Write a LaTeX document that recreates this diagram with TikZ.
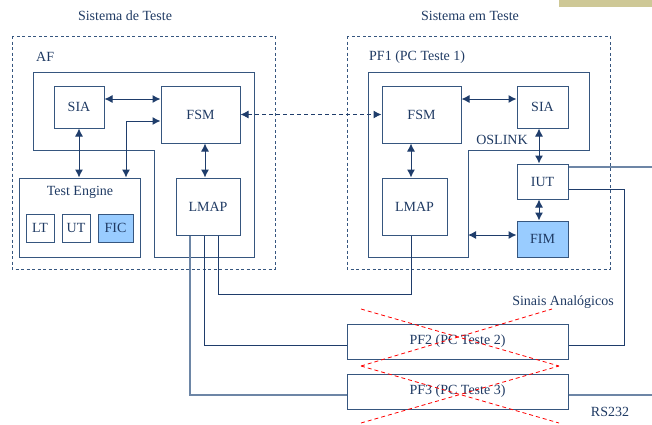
\documentclass[tikz,border=0pt]{standalone}
\usepackage{fontspec}
\setmainfont{Liberation Serif}
\usetikzlibrary{arrows.meta}
\definecolor{navy}{HTML}{1F3D6B}
\definecolor{steel}{HTML}{6D86A6}
\definecolor{boxline}{HTML}{36567F}
\definecolor{txt}{HTML}{1F3A63}
\definecolor{fillblue}{HTML}{99CCFF}
\definecolor{khaki}{HTML}{CEC896}
\begin{document}
\begin{tikzpicture}[x=1pt,y=-1pt,
  font=\fontsize{14}{16}\selectfont,
  every node/.style={text=txt},
  blk/.style={draw=boxline,line width=1pt,inner sep=0pt},
  hot/.style={blk,fill=fillblue},
  lbl/.style={inner sep=0pt},
  tip/.tip={Latex[length=8pt,width=8pt]},
  dar/.style={navy,line width=1pt,tip-tip},
  wire/.style={navy,line width=1pt},
  lite/.style={steel,line width=1.2pt},
  frame/.style={boxline,line width=1pt,dash pattern=on 3pt off 2.5pt},
  cross/.style={red,line width=0.8pt,dash pattern=on 4pt off 3pt}]
\useasboundingbox (0,0) rectangle (652,424);
\fill[khaki] (559,0) rectangle (652,7);

% system titles and dashed frames
\node[lbl] (tst) at (125,16) {Sistema de Teste};
\node[lbl] (sut) at (470,16) {Sistema em Teste};
\draw[frame] (12,36) rectangle (275,269);
\draw[frame] (347,36) rectangle (610,269);

% AF outline
\node[lbl,anchor=west] (af) at (36,57) {AF};
\draw[boxline,line width=1pt] (33,72) -- (254,72) -- (254,257) -- (154,257) -- (154,150) -- (33,150) -- cycle;

% PF1 outline
\node[lbl,anchor=west] (pf1) at (369,57) {PF1 (PC Teste 1)};
\draw[boxline,line width=1pt] (368,72) -- (589,72) -- (589,150) -- (468,150) coordinate (notch) -- (468,257) -- (368,257) -- cycle;
\node[lbl] (oslink) at (502,140) {OSLINK};

% left blocks
\node[blk,minimum width=50pt,minimum height=42pt] (lsia) at (79,107) {SIA};
\node[blk,minimum width=79pt,minimum height=57pt] (lfsm) at (200.5,114.5) {FSM};
\node[blk,minimum width=121pt,minimum height=79pt] (te) at (79.5,217.5) {};
\node[lbl] (tetitle) at (80,192) {Test Engine};
\node[blk,minimum width=28pt,minimum height=28pt] (lt) at (40,228) {LT};
\node[blk,minimum width=28pt,minimum height=28pt] (ut) at (76,228) {UT};
\node[hot,minimum width=35pt,minimum height=28pt] (fic) at (115.5,228) {FIC};
\node[blk,minimum width=64pt,minimum height=57pt] (llmap) at (208,206.5) {LMAP};

% right blocks
\node[blk,minimum width=79pt,minimum height=57pt] (rfsm) at (421.5,114.5) {FSM};
\node[blk,minimum width=51pt,minimum height=42pt] (rsia) at (542.5,107) {SIA};
\node[blk,minimum width=51pt,minimum height=35pt] (iut) at (542.5,181.5) {IUT};
\node[hot,minimum width=51pt,minimum height=36pt] (fim) at (542.5,239) {FIM};
\node[blk,minimum width=65pt,minimum height=57pt] (rlmap) at (414.5,206.5) {LMAP};

% remote PCs
\node[blk,minimum width=221pt,minimum height=35pt] (pf2) at (457.5,341.5) {PF2 (PC Teste 2)};
\node[blk,minimum width=221pt,minimum height=35pt] (pf3) at (457.5,391.5) {PF3 (PC Teste 3)};
\node[lbl] (sinais) at (563,302) {Sinais Analógicos};
\node[lbl] (rs) at (610,412) {RS232};

% arrows inside AF
\draw[dar] ([yshift=8pt]lsia.east) coordinate (a1) -- (a1 -| lfsm.west);
\draw[dar] (lsia.south) -- (lsia.south |- te.north);
\draw[dar] ([xshift=46.5pt]te.north) |- ([yshift=-6.5pt]lfsm.west);
\draw[dar] ([xshift=4.5pt]lfsm.south) coordinate (a2) -- (a2 |- llmap.north);

% link between the two FSMs
\draw[navy,line width=1pt,dash pattern=on 4pt off 3pt,tip-tip] (lfsm.east) -- (rfsm.west);

% arrows inside PF1
\draw[dar] ([yshift=15.5pt]rfsm.east) coordinate (b1) -- (b1 -| rsia.west);
\draw[dar] ([xshift=-3.5pt]rsia.south) coordinate (b2) -- (b2 |- iut.north);
\draw[dar] ([xshift=-3.5pt]iut.south) coordinate (b3) -- (b3 |- fim.north);
\draw[dar] ([xshift=-3.5pt]rlmap.north) coordinate (b4) -- (b4 |- rfsm.south);
\draw[dar] ([yshift=4pt]fim.west) coordinate (b5) -- (b5 -| notch);

% cabling
\coordinate (edge) at (652,167);
\coordinate (drop) at (624,300);
\draw[lite] ([yshift=14.5pt]iut.east) -- (edge);
\draw[wire] ([yshift=-7.5pt]iut.east) coordinate (c1) -- (c1 -| drop) |- ([yshift=-3.5pt]pf2.east);
\draw[lite] ([yshift=-3.5pt]pf3.east) coordinate (c2) -- (c2 -| edge);
\draw[lite] ([xshift=-18pt]llmap.south) |- ([yshift=-3.5pt]pf3.west);
\draw[wire] ([xshift=-4pt]llmap.south) |- ([yshift=-3.5pt]pf2.west);
\draw[wire] ([xshift=10pt]llmap.south) -- ++(0,59) -| ([xshift=-3.5pt]rlmap.south);

% crossed-out PCs
\draw[cross] (361,309) -- (559,366);
\draw[cross] (361,366) -- (552,309);
\draw[cross] (361,366) -- (559,423);
\draw[cross] (361,423) -- (559,366);
\end{tikzpicture}
\end{document}
